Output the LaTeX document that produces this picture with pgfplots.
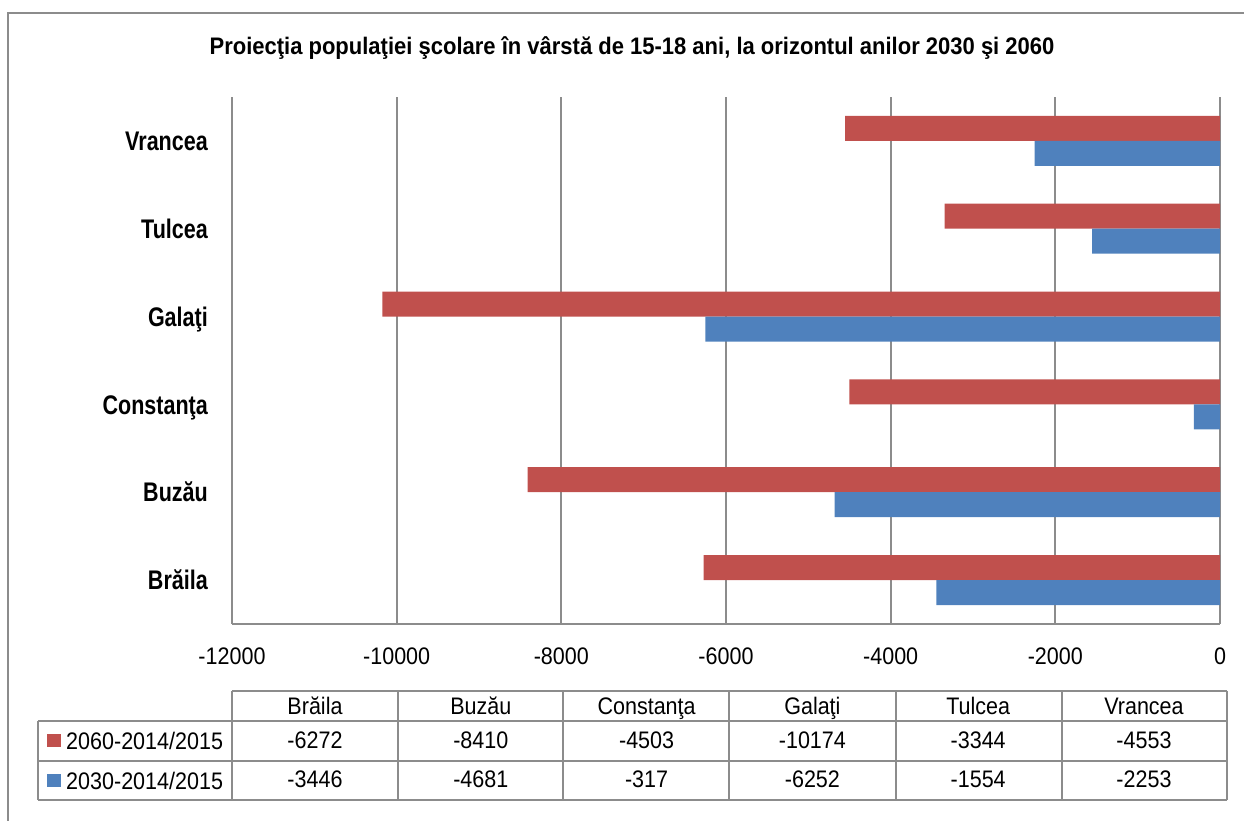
\documentclass[border=0pt]{standalone}
\usepackage{pgfplots}
\pgfplotsset{compat=1.18}
\usepackage{pgfplotstable}
\usepackage{fontspec}
\setmainfont{Liberation Sans}[FakeStretch=0.9]
\newfontfamily\labelfont{Liberation Sans}[FakeStretch=0.8]
\newfontfamily\titlefont{Liberation Sans}[FakeStretch=0.92]
\definecolor{redbar}{HTML}{C0504D}
\definecolor{bluebar}{HTML}{4F81BD}
\definecolor{gridgray}{HTML}{8C8C8C}

\pgfplotstableread{
idx name a b
0 Brăila -6272 -3446
1 Buzău -8410 -4681
2 Constanţa -4503 -317
3 Galaţi -10174 -6252
4 Tulcea -3344 -1554
5 Vrancea -4553 -2253
}\data

\begin{document}
\begin{tikzpicture}[x=1bp,y=1bp]
\useasboundingbox (0,0) rectangle (1244,821);
\draw[gridgray, line width=1.8bp] (8,-9) -- (8,808) -- (1250,808);
\node[font=\titlefont\bfseries\fontsize{24}{28}\selectfont] at (632,773) {Proiecţia populaţiei şcolare în vârstă de 15-18 ani, la orizontul anilor 2030 şi 2060};
\begin{axis}[
  at={(232bp,197bp)}, anchor=south west,
  scale only axis, width=988bp, height=527bp,
  xbar, bar width=25bp,
  xmin=-12000, xmax=0, ymin=-0.5, ymax=5.5,
  xtick={-12000,-10000,...,0},
  scaled x ticks=false,
  ytick={0,...,5}, yticklabels from table={\data}{name},
  xmajorgrids, grid style={gridgray, line width=1.8bp},
  axis x line*=bottom,
  axis line style={-, gridgray, line width=1.8bp},
  major tick length=0pt,
  /pgf/number format/assume math mode=true,
  /pgf/number format/1000 sep={},
  xticklabel style={font=\fontsize{24}{28}\selectfont, inner sep=0pt, anchor=north, yshift=-24bp,
    /pgf/number format/fixed},
  yticklabel style={font=\labelfont\bfseries\fontsize{27}{30}\selectfont, inner sep=0pt, text height=19.5bp, text depth=0pt, anchor=east, xshift=-24bp},
  legend style={at={(-0.1872,-0.26)}, anchor=west, draw=none, fill=none, inner sep=0pt,
    font=\fontsize{24}{28}\selectfont, row sep=18bp,
    nodes={inner xsep=5bp, inner ysep=0pt, text height=19bp, text depth=3bp}},
  legend cell align=left,
]
\addplot[fill=redbar, draw=none, bar shift=12.5bp,
  legend image code/.code={\fill[redbar] (0bp,-6bp) rectangle (14bp,7bp);}]
  table[x=a, y=idx] {\data};
\addlegendentry{2060-2014/2015}
\addplot[fill=bluebar, draw=none, bar shift=-12.5bp,
  legend image code/.code={\fill[bluebar] (0bp,-6bp) rectangle (14bp,7bp);}]
  table[x=b, y=idx] {\data};
\addlegendentry{2030-2014/2015}
\end{axis}
% data table
\begin{scope}[gridgray, line width=1.8bp]
\draw (232,130) -- (1227,130);
\draw (38,100) -- (1227,100);
\draw (38,60) -- (1227,60);
\draw (38,21) -- (1227,21);
\draw (38,100) -- (38,21);
\foreach \xx in {232,398,563,729,896,1062,1227} {\draw (\xx,130) -- (\xx,21);}
\end{scope}
\foreach \i in {0,...,5}{
  \pgfplotstablegetelem{\i}{name}\of\data \let\nm\pgfplotsretval
  \node[anchor=base, inner sep=0pt, font=\fontsize{24}{28}\selectfont] at ({315+165.8*\i},106) {\nm};
  \pgfplotstablegetelem{\i}{a}\of\data \let\va\pgfplotsretval
  \node[anchor=base, inner sep=0pt, font=\fontsize{24}{28}\selectfont] at ({315+165.8*\i},72) {\va};
  \pgfplotstablegetelem{\i}{b}\of\data \let\vb\pgfplotsretval
  \node[anchor=base, inner sep=0pt, font=\fontsize{24}{28}\selectfont] at ({315+165.8*\i},33) {\vb};
}
\end{tikzpicture}
\end{document}
